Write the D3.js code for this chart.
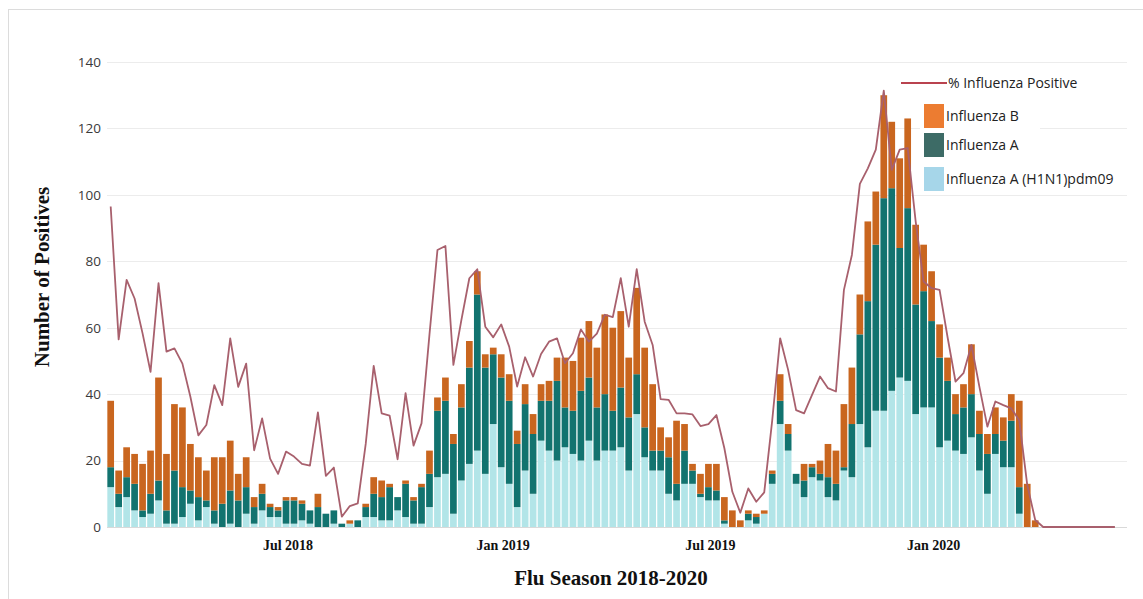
<!DOCTYPE html>
<html>
<head>
<meta charset="utf-8">
<script src="https://cdn.jsdelivr.net/npm/d3@7/dist/d3.min.js"></script>
<style>
  html, body { margin: 0; padding: 0; background: #fff; }
  svg { display: block; }
</style>
</head>
<body>
<svg id="chart" width="1143" height="599"></svg>
<script>
// Weekly laboratory-confirmed influenza positives, 2018–2020 seasons
const h1n1 = [
  12,6,9,5,3,4,8,1,1,3, 7,2,6,1,0,1,0,4,1,5, 3,3,1,1,2,1,0,0,1,0,
  1,0,3,3,2,2,5,3,1,1, 6,15,16,4,14,19,23,16,31,18, 13,6,17,10,26,23,20,24,22,20,
  26,20,23,23,24,17,34,21,17,17, 10,8,13,13,9,8,8,1,0,0, 2,1,4,13,31,23,13,9,15,14,
  9,8,17,15,31,24,35,35,41,45, 44,34,36,36,24,26,23,22,27,17, 10,22,18,18,4,0,0,
  0,0,0,0,0,0,0,0,0,0
];
const fluA = [
  6,4,6,8,2,6,6,4,16,9, 4,7,2,4,7,10,8,8,5,5, 3,2,7,7,5,4,6,4,4,1,
  0,2,3,7,7,10,4,10,7,11, 10,20,22,21,22,29,47,32,21,27, 25,19,20,18,12,15,24,12,13,21,
  19,16,17,12,18,16,12,9,6,6, 11,5,10,4,1,4,3,1,0,0, 2,2,0,3,7,5,3,5,3,2,
  6,5,1,16,27,44,50,64,61,39, 52,33,35,26,27,18,11,14,13,11, 12,6,8,14,8,0,0,
  0,0,0,0,0,0,0,0,0,0
];
const fluB = [
  20,7,9,9,14,13,31,17,20,24, 14,12,9,16,14,15,8,9,3,3, 1,1,1,1,1,0,4,0,0,0,
  1,0,1,5,5,1,0,1,1,1, 7,4,7,3,7,8,7,4,2,7, 8,4,6,6,5,6,7,15,15,16,
  17,18,24,25,23,18,26,24,20,7, 6,19,8,2,6,7,8,7,5,2, 1,1,1,1,8,3,0,5,1,4,
  10,10,19,17,12,24,16,31,20,27, 27,24,14,15,10,7,6,7,15,7, 6,8,7,8,26,13,2,
  0,0,0,0,0,0,0,0,0,0
];
const pctPositive = [
  96.5,56.5,74.4,68.8,58.3,46.7,73.4,52.8,53.8,49.2,
  39.2,27.6,30.7,42.7,36.7,56.8,42.2,49.2,23.1,32.7,
  20.6,16.0,22.7,21.2,19.0,18.5,34.5,15.4,17.9,3.1,
  6.3,7.1,25.0,48.5,34.2,33.5,20.4,40.3,24.5,31.2,
  58.0,83.4,84.6,48.8,62.3,74.9,77.6,60.3,57.1,61.0,
  54.3,42.3,51.1,45.3,52.1,55.8,56.8,49.3,52.3,59.5,
  55.8,58.2,63.9,63.2,74.9,60.3,77.6,61.8,54.8,38.5,
  38.3,34.2,34.2,33.9,30.4,31.0,33.7,23.7,10.6,4.3,
  11.6,7.6,10.4,32.0,56.8,47.3,35.2,34.2,39.8,45.3,
  41.8,40.8,71.4,81.9,103.3,108.0,113.6,131.4,107.5,113.6,
  114.1,92.0,73.9,71.9,71.4,57.2,43.8,46.3,54.8,42.2,
  30.2,37.8,36.7,35.7,32.1,12.7,2.1,
  0,0,0,0,0,0,0,0,0,0
];
const tickLabels = ["Jul 2018", "Jan 2019", "Jul 2019", "Jan 2020"];
const tickWeeks = [22, 49, 75, 103];
const yTicks = [0, 20, 40, 60, 80, 100, 120, 140];
const seriesKeys = ["h1n1", "fluA", "fluB"];
const seriesNames = ["Influenza A (H1N1)pdm09", "Influenza A", "Influenza B"];

const barColor = { h1n1: "#b2e5e8", fluA: "#12736f", fluB: "#c9661f" };
const swatchColor = { h1n1: "#a6d6e9", fluA: "#3d6b66", fluB: "#ec7c31" };
const lineColor = "#a8606d";

const svg = d3.select("#chart");
const W = 1143, H = 599;

// outer frame
svg.append("rect").attr("x", 8.5).attr("y", 9.5).attr("width", W).attr("height", H)
  .attr("fill", "#fff").attr("stroke", "#dcdcdc");

const rows = pctPositive.map((p, i) => ({ i, h1n1: h1n1[i], fluA: fluA[i], fluB: fluB[i], pct: p }));

const n = rows.length;
const step = 7.97;
const x = d3.scaleBand().domain(d3.range(n)).range([106.7, 106.7 + n * step])
  .paddingInner(0.16).paddingOuter(0.08);
const y = d3.scaleLinear().domain([0, 140]).range([527, 62]);

// gridlines
svg.append("g").selectAll("line").data(yTicks).join("line")
  .attr("x1", 107).attr("x2", 1127)
  .attr("y1", d => Math.round(y(d)) + 0.5).attr("y2", d => Math.round(y(d)) + 0.5)
  .attr("stroke", d => d === 0 ? "#d9d9d9" : "#ececec").attr("stroke-width", 1);

// y axis labels
const yAxis = d3.axisLeft(y).tickValues(yTicks).tickSize(0).tickPadding(0);
const gy = svg.append("g").attr("transform", "translate(101,0)").call(yAxis);
gy.select(".domain").remove();
gy.selectAll("text").attr("font-family", "'Open Sans', sans-serif")
  .attr("font-size", 13.5).attr("fill", "#3a3a3a");

// stacked bars
const stack = d3.stack().keys(seriesKeys)(rows);
svg.append("g").selectAll("g").data(stack).join("g")
  .attr("fill", d => barColor[d.key])
  .selectAll("rect").data(d => d).join("rect")
  .attr("x", d => x(d.data.i))
  .attr("width", x.bandwidth())
  .attr("y", d => y(d[1]))
  .attr("height", d => Math.max(0, y(d[0]) - y(d[1])));

// % positive line
const line = d3.line().x(d => x(d.i) + x.bandwidth() / 2).y(d => y(d.pct));
svg.append("path").datum(rows).attr("d", line)
  .attr("fill", "none").attr("stroke", lineColor).attr("stroke-width", 1.8)
  .attr("stroke-linejoin", "round");

// x axis labels
const xAxis = d3.axisBottom(x).tickValues(tickWeeks)
  .tickFormat(d => tickLabels[tickWeeks.indexOf(d)]).tickSize(0).tickPadding(0);
const gx = svg.append("g").attr("transform", "translate(2,540)").call(xAxis);
gx.select(".domain").remove();
gx.selectAll("text").attr("font-family", "'Liberation Serif', 'Times New Roman', serif")
  .attr("font-weight", "bold").attr("font-size", 14).attr("fill", "#111");

// axis titles
svg.append("text").attr("x", 611).attr("y", 585).attr("text-anchor", "middle")
  .attr("font-family", "'Liberation Serif', 'Times New Roman', serif")
  .attr("font-weight", "bold").attr("font-size", 21).attr("fill", "#111")
  .text("Flu Season 2018-2020");
svg.append("text").attr("transform", "translate(49,277) rotate(-90)")
  .attr("text-anchor", "middle")
  .attr("font-family", "'Liberation Serif', 'Times New Roman', serif")
  .attr("font-weight", "bold").attr("font-size", 21).attr("fill", "#111")
  .text("Number of Positives");

// legend
const lg = svg.append("g");
lg.append("rect").attr("x", 920).attr("y", 98).attr("width", 120).attr("height", 95).attr("fill", "#fff");
lg.append("line").attr("x1", 901).attr("x2", 947).attr("y1", 83).attr("y2", 83)
  .attr("stroke", "#b9434f").attr("stroke-width", 2);
lg.append("text").attr("x", 948).attr("y", 83).attr("dy", "0.35em")
  .attr("font-family", "'Open Sans', sans-serif").attr("font-size", 14).attr("fill", "#222")
  .text("% Influenza Positive");
const legendOrder = ["fluB", "fluA", "h1n1"];
const legendY = [104, 133, 167];
legendOrder.forEach((k, j) => {
  lg.append("rect").attr("x", 924).attr("y", legendY[j]).attr("width", 20).attr("height", 24)
    .attr("fill", swatchColor[k]);
  lg.append("text").attr("x", 946).attr("y", legendY[j] + 12).attr("dy", "0.35em")
    .attr("font-family", "'Open Sans', sans-serif").attr("font-size", 14).attr("fill", "#222")
    .text(seriesNames[seriesKeys.indexOf(k)]);
});
</script>
</body>
</html>
